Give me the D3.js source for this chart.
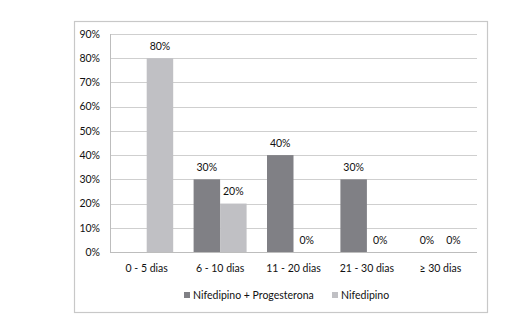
<!DOCTYPE html>
<html><head><meta charset="utf-8">
<script src="https://cdn.jsdelivr.net/npm/d3@7"></script>
<style>body{margin:0;background:#fff}svg{display:block}text{font-family:Lato,"Open Sans",sans-serif;fill:#111}</style>
</head><body>
<script>
const categories = ["0 - 5 dias","6 - 10 dias","11 - 20 dias","21 - 30 dias","\u2265 30 dias"];
const seriesNames = ["Nifedipino + Progesterona","Nifedipino"];
const nifProg = [null,30,40,30,0];
const nif = [80,20,0,0,0];
const yTicks = [0,10,20,30,40,50,60,70,80,90];
const colors = ["#808085","#c0c0c4"];

const W=510,H=318;
const svg=d3.select("body").append("svg").attr("width",W).attr("height",H);
svg.append("rect").attr("x",74.5).attr("y",21.5).attr("width",413).attr("height",291)
  .attr("fill","#fff").attr("stroke","#c8c8c8").attr("stroke-width",1.2);

const m={l:110,r:477,t:34,b:252};
const x=d3.scaleBand().domain(categories).range([m.l,m.r]).paddingInner(0).paddingOuter(0);
const x1=d3.scaleBand().domain(seriesNames).range([0,x.bandwidth()]).paddingOuter(0.385).paddingInner(0);
const y=d3.scaleLinear().domain([0,90]).range([m.b,m.t]);

svg.append("g").selectAll("line").data(yTicks).join("line")
  .attr("x1",m.l).attr("x2",m.r).attr("y1",d=>Math.round(y(d))+0.5).attr("y2",d=>Math.round(y(d))+0.5)
  .attr("stroke","#cfcfcf").attr("stroke-width",1);
svg.append("line").attr("x1",m.l+0.5).attr("x2",m.l+0.5).attr("y1",m.t).attr("y2",m.b+0.5)
  .attr("stroke","#bdbdbd");
svg.append("line").attr("x1",m.l).attr("x2",m.r).attr("y1",m.b+0.5).attr("y2",m.b+0.5)
  .attr("stroke","#bdbdbd");

const fs=10.5;
svg.append("g").selectAll("text").data(yTicks).join("text")
  .attr("x",100).attr("y",d=>y(d)+3.8).attr("text-anchor","end").attr("font-size",fs)
  .text(d=>d+"%");

svg.append("g").selectAll("text").data(categories).join("text")
  .attr("x",d=>x(d)+x.bandwidth()/2).attr("y",272).attr("text-anchor","middle").attr("font-size",fs)
  .text(d=>d);

const data=[nifProg,nif];
data.forEach((vals,si)=>{
  const g=svg.append("g");
  const pts=categories.map((c,i)=>({c,v:vals[i]})).filter(d=>d.v!==null);
  g.selectAll("rect").data(pts).join("rect")
    .attr("x",d=>x(d.c)+x1(seriesNames[si])).attr("width",x1.bandwidth())
    .attr("y",d=>y(d.v)).attr("height",d=>y(0)-y(d.v)).attr("fill",colors[si]);
  g.selectAll("text").data(pts).join("text")
    .attr("x",d=>x(d.c)+x1(seriesNames[si])+x1.bandwidth()/2).attr("y",d=>y(d.v)-8.5)
    .attr("text-anchor","middle").attr("font-size",fs).text(d=>d.v+"%");
});

const leg=[{x:184,name:seriesNames[0],c:colors[0]},{x:332,name:seriesNames[1],c:colors[1]}];
leg.forEach(l=>{
  svg.append("rect").attr("x",l.x).attr("y",292).attr("width",6).attr("height",6).attr("fill",l.c);
  svg.append("text").attr("x",l.x+9).attr("y",299).attr("font-size",fs).text(l.name);
});
</script>
</body></html>
